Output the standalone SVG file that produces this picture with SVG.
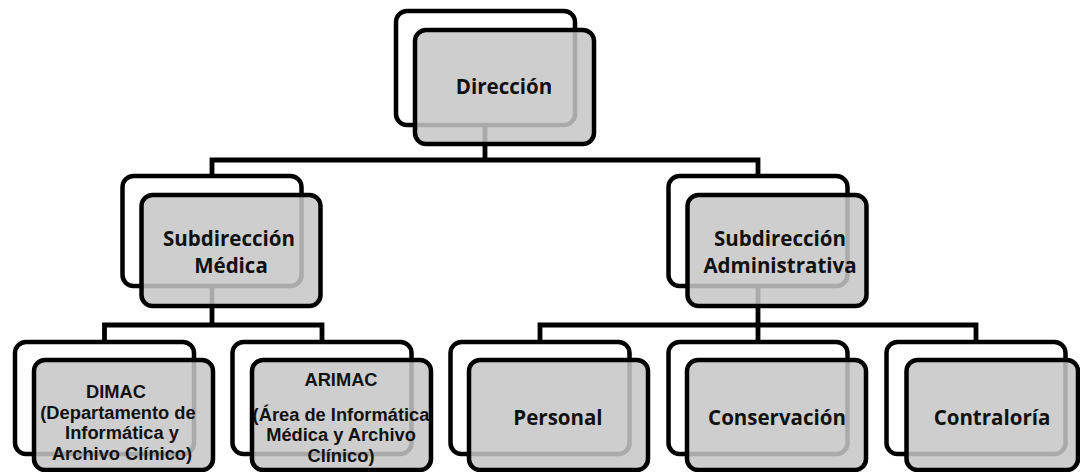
<svg xmlns="http://www.w3.org/2000/svg" width="1080" height="472" viewBox="0 0 1080 472">
  <style>
    .bg { fill: #ffffff; }
    .back { fill: #ffffff; stroke: #000000; stroke-width: 4.5; }
    .front { fill: #c6c6c6; fill-opacity: 0.86; stroke: #000000; stroke-width: 4.5; }
    .link { fill: none; stroke: #000000; stroke-width: 4.8; stroke-linejoin: miter; }
    .lbl { font-family: "Open Sans", "Liberation Sans", sans-serif; font-weight: bold; fill: #111111; text-anchor: middle; }
    .big { font-size: 20.5px; }
    .small { font-family: "Liberation Sans", Arial, sans-serif; font-size: 18.3px; }
  </style>
  <rect class="bg" x="0" y="0" width="1080" height="472"/>

  <!-- hierarchy connectors -->
  <g id="connectors">
    <path class="link" d="M485 125 V160 M212 176 V160 H758 V176"/>
    <path class="link" d="M212 286 V325 M104.5 342 V325 H322 V342"/>
    <path class="link" d="M758 286 V325 M540 342 V325 H976 V342 M758 325 V342"/>
  </g>

  <g id="direccion">
    <rect class="back" x="396" y="11" width="179" height="114" rx="11"/>
    <rect class="front" x="415" y="30" width="179" height="114" rx="11"/>
    <text class="lbl big" x="504" y="94">Dirección</text>
  </g>

  <g id="subdireccion-medica">
    <rect class="back" x="122.5" y="176" width="179" height="110" rx="11"/>
    <rect class="front" x="141.5" y="195" width="179" height="111" rx="11"/>
    <text class="lbl big"><tspan x="229" y="246">Subdirección</tspan><tspan x="231" y="273">Médica</tspan></text>
  </g>

  <g id="subdireccion-administrativa">
    <rect class="back" x="668.5" y="176" width="179" height="110" rx="11"/>
    <rect class="front" x="687.5" y="195" width="179" height="111" rx="11"/>
    <text class="lbl big"><tspan x="780" y="246">Subdirección</tspan><tspan x="780" y="273">Administrativa</tspan></text>
  </g>

  <g id="dimac">
    <rect class="back" x="15" y="342" width="179" height="112" rx="11"/>
    <rect class="front" x="34" y="360" width="179" height="110" rx="11"/>
    <text class="lbl small"><tspan x="116" y="398">DIMAC</tspan><tspan x="118" y="418.5">(Departamento de</tspan><tspan x="122" y="439">Informática y</tspan><tspan x="122" y="459.5">Archivo Clínico)</tspan></text>
  </g>

  <g id="arimac">
    <rect class="back" x="232.5" y="342" width="179" height="112" rx="11"/>
    <rect class="front" x="252" y="360" width="179" height="110" rx="11"/>
    <text class="lbl small"><tspan x="341" y="386">ARIMAC</tspan><tspan x="341" y="420.5">(Área de Informática</tspan><tspan x="341" y="441">Médica y Archivo</tspan><tspan x="341" y="461.5">Clínico)</tspan></text>
  </g>

  <g id="personal">
    <rect class="back" x="450.5" y="342" width="179" height="112" rx="11"/>
    <rect class="front" x="469" y="360" width="179" height="110" rx="11"/>
    <text class="lbl big" x="558" y="425">Personal</text>
  </g>

  <g id="conservacion">
    <rect class="back" x="668.5" y="342" width="179" height="112" rx="11"/>
    <rect class="front" x="687" y="360" width="179" height="110" rx="11"/>
    <text class="lbl big" x="777" y="425">Conservación</text>
  </g>

  <g id="contraloria">
    <rect class="back" x="886.5" y="342" width="179" height="112" rx="11"/>
    <rect class="front" x="906.5" y="360" width="171.5" height="110" rx="11"/>
    <text class="lbl big" x="992" y="425">Contraloría</text>
  </g>
</svg>
